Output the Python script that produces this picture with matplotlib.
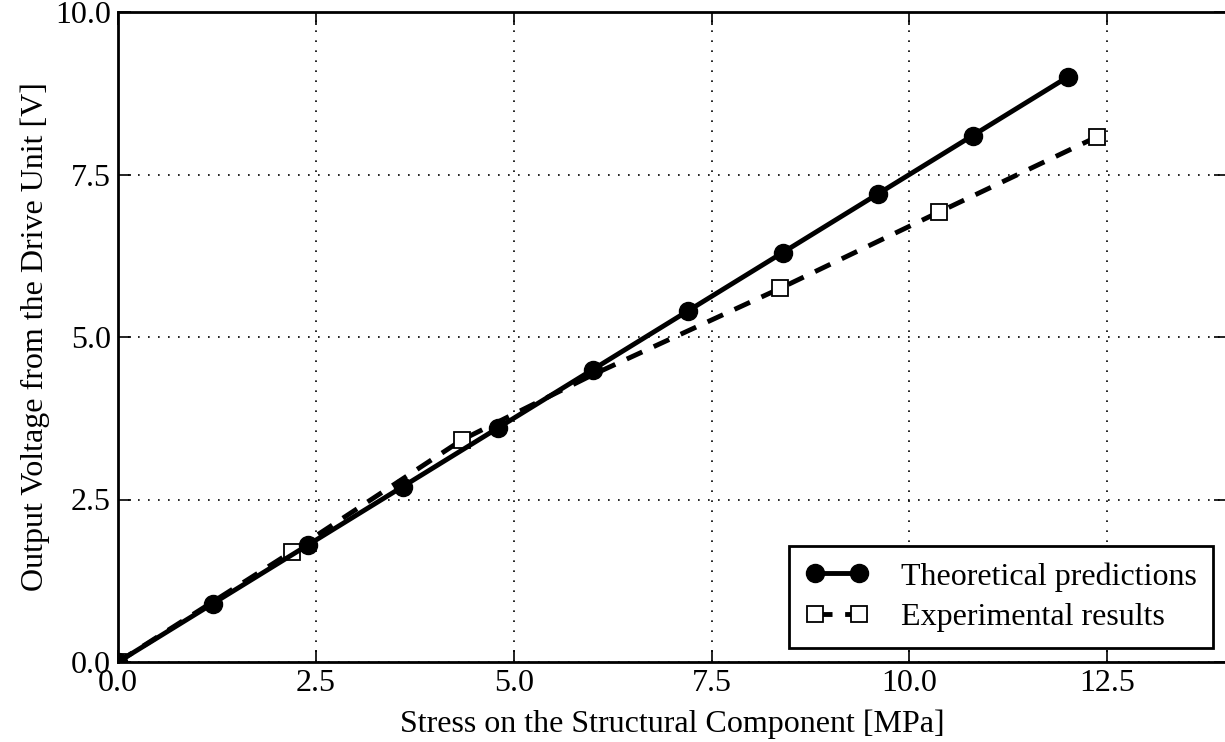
import matplotlib
matplotlib.use("Agg")
import matplotlib.pyplot as plt

# theoretical predictions
theory_x = [0.0, 1.2, 2.4, 3.6, 4.8, 6.0, 7.2, 8.4, 9.6, 10.8, 12.0]
theory_y = [0.0, 0.9, 1.8, 2.7, 3.6, 4.5, 5.4, 6.3, 7.2, 8.1, 9.0]

# experimental results (point at 6.0 sits behind a theoretical marker)
exp_x = [0.0, 2.2, 4.35, 6.0, 8.37, 10.37, 12.37]
exp_y = [0.0, 1.7, 3.42, 4.42, 5.75, 6.92, 8.08]
exp_marked = [0, 1, 2, 4, 5, 6]

xticks = [0.0, 2.5, 5.0, 7.5, 10.0, 12.5]
yticks = [0.0, 2.5, 5.0, 7.5, 10.0]

plt.rcParams['font.family'] = ['Liberation Serif', 'DejaVu Serif']
plt.rcParams['font.size'] = 23

fig = plt.figure(figsize=(12.25, 7.42), dpi=100)
ax = fig.add_axes([118 / 1225, 80 / 742, 1108 / 1225, 650 / 742])

ax.plot(exp_x, exp_y, color='black', lw=3.5, dashes=(3.5, 2.6),
        marker='s', markersize=12, markerfacecolor='white',
        markeredgecolor='black', markeredgewidth=1.3,
        markevery=exp_marked, label='Experimental results', zorder=2)
ax.plot(theory_x, theory_y, color='black', lw=3.5, marker='o',
        markersize=13, label='Theoretical predictions', zorder=3)

ax.set_xlim(0, 14)
ax.set_ylim(0, 10)
ax.set_xticks(xticks)
ax.set_yticks(yticks)
ax.xaxis.set_major_formatter(matplotlib.ticker.FormatStrFormatter('%.1f'))
ax.yaxis.set_major_formatter(matplotlib.ticker.FormatStrFormatter('%.1f'))
ax.tick_params(direction='in', length=9, width=1.2, top=True, right=True,
               labelsize=23, pad=5)
ax.grid(True, color='black', linestyle=(0, (1, 5)), lw=1.2)
for s in ax.spines.values():
    s.set_linewidth(2)

ax.set_xlabel('Stress on the Structural Component [MPa]', fontsize=23, labelpad=8)
ax.set_ylabel('Output Voltage from the Drive Unit [V]', fontsize=23, labelpad=4)

handles, labels = ax.get_legend_handles_labels()
leg = ax.legend(handles[::-1], labels[::-1], loc='lower right', numpoints=2,
                fancybox=False, framealpha=1, edgecolor='black',
                handlelength=2.0, borderpad=0.5, labelspacing=0.35,
                handletextpad=1.0, borderaxespad=0,
                bbox_to_anchor=(0.988, 0.0215))
leg.get_frame().set_linewidth(2)

fig.savefig('out.png', dpi=100)
